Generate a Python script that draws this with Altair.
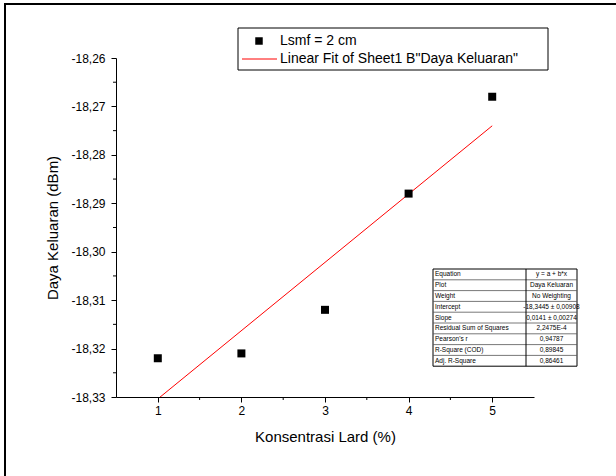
import altair as alt
import pandas as pd

# Measured output power versus lard concentration
konsentrasi = [1, 2, 3, 4, 5]
daya_keluaran = [-18.322, -18.321, -18.312, -18.288, -18.268]

# Linear fit parameters (y = a + b*x)
intercept = -18.3445
slope = 0.0141

# Fit summary table
table_keys = ["Equation", "Plot", "Weight", "Intercept", "Slope",
              "Residual Sum of Squares", "Pearson's r", "R-Square (COD)", "Adj. R-Square"]
table_vals = ["y = a + b*x", "Daya Keluaran", "No Weighting", "-18,3445 ± 0,00908",
              "0,0141 ± 0,00274", "2,2475E-4", "0,94787", "0,89845", "0,86461"]

y_major = [-18.33, -18.32, -18.31, -18.30, -18.29, -18.28, -18.27, -18.26]
x_major = [1, 2, 3, 4, 5]
y_minor = [-18.325, -18.315, -18.305, -18.295, -18.285, -18.275, -18.265]
x_minor = [1.5, 2.5, 3.5, 4.5]

FONT = "Liberation Sans"
W, H = 418, 339
X_DOM = [0.5, 5.5]
Y_DOM = [-18.33, -18.26]

pts = pd.DataFrame({"x": konsentrasi, "y": daya_keluaran})
fit = pd.DataFrame({"x": [konsentrasi[0], konsentrasi[-1]]})
fit["y"] = intercept + slope * fit["x"]

xs = alt.Scale(domain=X_DOM, nice=False, zero=False)
ys = alt.Scale(domain=Y_DOM, nice=False, zero=False)

# decimal comma and plain hyphen for negative values
comma_fmt = "'-' + replace(format(abs(datum.value), '.2f'), '.', ',')"

points = alt.Chart(pts).mark_square(size=64, color="black", opacity=1).encode(
    x=alt.X("x:Q", scale=xs, axis=alt.Axis(
        values=x_major, format="d", title="Konsentrasi Lard (%)", grid=False,
        domainColor="black", tickColor="black", tickSize=5, labelPadding=3,
        labelFontSize=12, labelFont=FONT, labelColor="black", titleFont=FONT,
        titleFontSize=15, titleFontWeight="normal", titleColor="black", titlePadding=13)),
    y=alt.Y("y:Q", scale=ys, axis=alt.Axis(
        values=y_major, labelExpr=comma_fmt, title="Daya Keluaran (dBm)", grid=False,
        domainColor="black", tickColor="black", tickSize=5, labelPadding=6,
        labelFontSize=12, labelFont=FONT, labelColor="black", titleFont=FONT,
        titleFontSize=15, titleFontWeight="normal", titleColor="black", titlePadding=10)),
)

fit_line = alt.Chart(fit).mark_line(color="#ff0000", strokeWidth=1, clip=True).encode(
    x=alt.X("x:Q", scale=xs), y=alt.Y("y:Q", scale=ys)
)

# Minor ticks on both axes
ymin_df = pd.DataFrame({"y": y_minor})
xmin_df = pd.DataFrame({"x": x_minor})
y_minor_ticks = alt.Chart(ymin_df).mark_rule(color="black", strokeWidth=1).encode(
    y=alt.Y("y:Q", scale=ys), x=alt.value(-3), x2=alt.value(0)
)
x_minor_ticks = alt.Chart(xmin_df).mark_rule(color="black", strokeWidth=1).encode(
    x=alt.X("x:Q", scale=xs), y=alt.value(H), y2=alt.value(H + 3)
)

# Page frame (left and top edges)
frame_left = alt.Chart(pd.DataFrame({"a": [0]})).mark_rule(color="black", strokeWidth=2).encode(
    x=alt.value(-111), y=alt.value(-54), y2=alt.value(H + 90)
)
frame_top = alt.Chart(pd.DataFrame({"a": [0]})).mark_rule(color="black", strokeWidth=2).encode(
    x=alt.value(-112), x2=alt.value(W + 90), y=alt.value(-54)
)

# Legend box
LX0, LY0, LX1, LY1 = 122, -30, 432, 12
leg_box = alt.Chart(pd.DataFrame({"a": [0]})).mark_rect(
    fill="white", stroke="black", strokeWidth=1).encode(
    x=alt.value(LX0), x2=alt.value(LX1), y=alt.value(LY0), y2=alt.value(LY1)
)
leg_sq = alt.Chart(pd.DataFrame({"a": [0]})).mark_square(size=56, color="black", opacity=1).encode(
    x=alt.value(143), y=alt.value(-17)
)
leg_line = alt.Chart(pd.DataFrame({"a": [0]})).mark_rule(color="#ff0000", strokeWidth=1).encode(
    x=alt.value(126), x2=alt.value(161), y=alt.value(1)
)
leg_text = alt.Chart(pd.DataFrame({
    "t": ["Lsmf = 2 cm", 'Linear Fit of Sheet1 B"Daya Keluaran"'],
    "i": [0, 1],
})).transform_calculate(py="-17 + datum.i * 18").mark_text(
    align="left", baseline="middle", font=FONT, fontSize=14, color="black"
).encode(x=alt.value(164), y=alt.Y("py:Q", scale=None), text="t:N")

# Fit summary table
TX0, TX1, TXD, TY0, RH = 317, 461, 410, 211, 10.8
rows = pd.DataFrame({"k": table_keys, "v": table_vals, "i": list(range(len(table_keys)))})
tbl_box = alt.Chart(pd.DataFrame({"a": [0]})).mark_rect(
    fill="white", stroke="black", strokeWidth=1).encode(
    x=alt.value(TX0), x2=alt.value(TX1), y=alt.value(TY0), y2=alt.value(TY0 + RH * len(table_keys))
)
tbl_lines = alt.Chart(rows[rows["i"] > 0]).transform_calculate(
    py=f"{TY0} + datum.i * {RH}").mark_rule(color="#555555", strokeWidth=0.8).encode(
    x=alt.value(TX0), x2=alt.value(TX1), y=alt.Y("py:Q", scale=None)
)
tbl_div = alt.Chart(pd.DataFrame({"a": [0]})).mark_rule(color="black", strokeWidth=1).encode(
    x=alt.value(TXD), y=alt.value(TY0), y2=alt.value(TY0 + RH * len(table_keys))
)
tbl_keys = alt.Chart(rows).transform_calculate(
    py=f"{TY0} + (datum.i + 0.5) * {RH}").mark_text(
    align="left", baseline="middle", font=FONT, fontSize=6.5, color="black"
).encode(x=alt.value(TX0 + 2), y=alt.Y("py:Q", scale=None), text="k:N")
tbl_vals = alt.Chart(rows).transform_calculate(
    py=f"{TY0} + (datum.i + 0.5) * {RH}").mark_text(
    align="center", baseline="middle", font=FONT, fontSize=6.5, color="black"
).encode(x=alt.value((TXD + TX1) / 2), y=alt.Y("py:Q", scale=None), text="v:N")

chart = alt.layer(
    frame_left, frame_top, fit_line, points, y_minor_ticks, x_minor_ticks,
    leg_box, leg_sq, leg_line, leg_text,
    tbl_box, tbl_lines, tbl_div, tbl_keys, tbl_vals,
).properties(
    width=W, height=H,
    autosize=alt.AutoSizeParams(type="none"),
    padding={"left": 116, "top": 58, "right": 82, "bottom": 79},
    background="white",
).configure_view(stroke=None)

chart.save("out.html", embed_options={"renderer": "svg", "actions": False})
